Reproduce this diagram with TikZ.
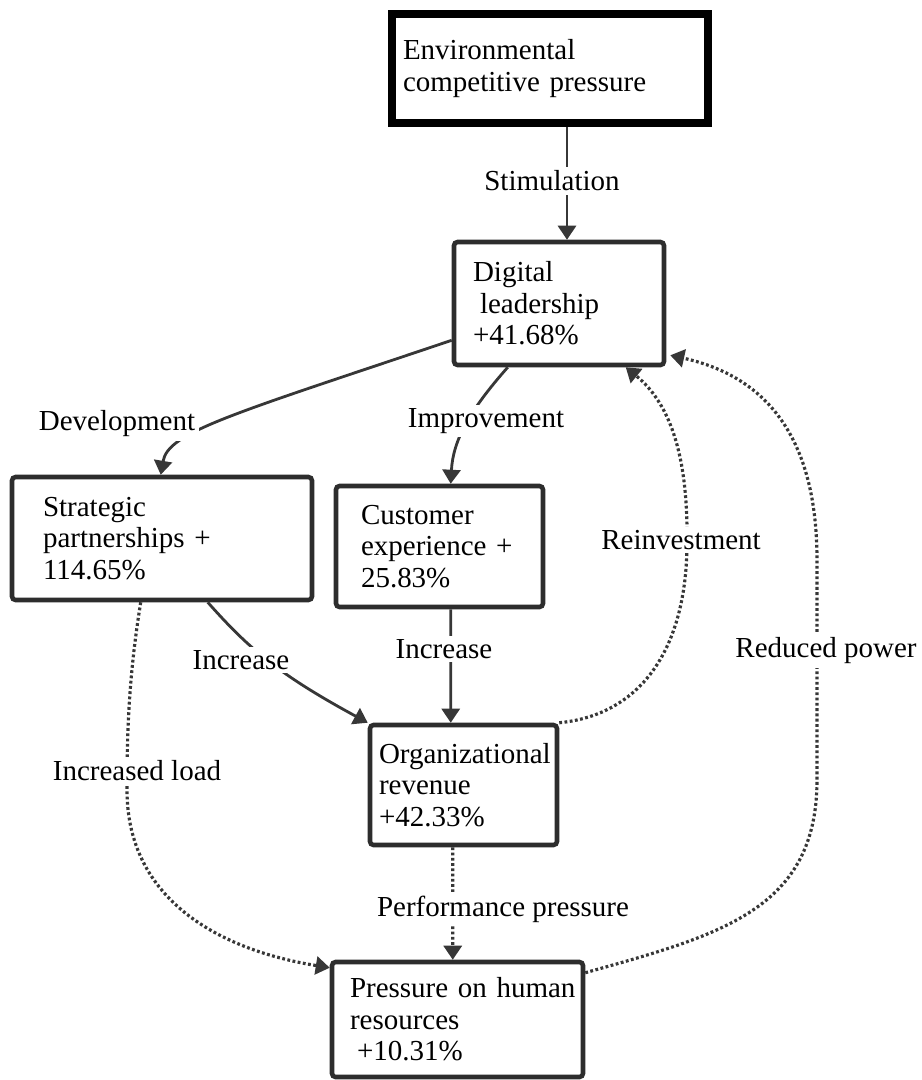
\documentclass[tikz,border=0pt]{standalone}
\usepackage{fontspec}
\setmainfont{Liberation Serif}
\usepackage{xcolor}
\definecolor{effgray}{RGB}{45,45,45}
\definecolor{effarrgray}{RGB}{55,55,55}
\usetikzlibrary{arrows.meta,positioning,calc}

\begin{document}
\begin{tikzpicture}[x=0.02cm,y=-0.02cm,
  effbox/.style={draw=effgray,line width=2.6pt,rounded corners=2pt,fill=white,
    align=left,font=\fontsize{16.5}{18}\selectfont},
  efflabel/.style={fill=white,inner sep=2pt,font=\fontsize{16.5}{18}\selectfont},
  effarr/.style={-{Triangle[width=0.36cm,length=0.28cm]},line width=1.6pt,effarrgray},
  effdot/.style={effarr,line width=1.8pt,dash pattern=on 1.6pt off 1.4pt}
]
  \useasboundingbox (0,0) rectangle (922,1080);
  % Boxes
  \node[effbox,draw=black,line width=4.5pt,rounded corners=0pt,minimum width=6.32cm,
    minimum height=2.18cm,text width=5.88cm,inner xsep=0.22cm] (env) at (550,68.5)
    {Environmental\\competitive pressure};
  \node[effbox,minimum width=4.2cm,minimum height=2.46cm,text width=3.44cm,
    inner xsep=0.38cm] (dig) at (559,303.5) {Digital\\\hspace*{4pt}leadership\\+41.68\%};
  \node[effbox,minimum width=6cm,minimum height=2.46cm,text width=4.76cm,
    inner xsep=0.62cm] (strat) at (162,538.5) {Strategic\\partnerships +\\114.65\%};
  \node[effbox,minimum width=4.14cm,minimum height=2.42cm,text width=3.14cm,
    inner xsep=0.5cm] (cust) at (439.5,546.5) {Customer\\experience +\\25.83\%};
  \node[effbox,minimum width=3.74cm,minimum height=2.4cm,text width=3.38cm,
    inner xsep=0.18cm] (org) at (463.5,785) {\mbox{Organizational}\\revenue\\+42.33\%};
  \node[effbox,minimum width=5.02cm,minimum height=2.3cm,text width=4.3cm,
    inner xsep=0.36cm] (hr) at (457.5,1019.5) {\mbox{Pressure on human}\\resources\\\hspace*{4pt}+10.31\%};
  % Solid links
  \draw[effarr] ($(env.south)+(17,0)$) -- ($(dig.north)+(8,0)$);
  \draw[effarr] ($(dig.south west)+(0,-27)$) .. controls (230,415) and (168,432)
    .. ($(strat.north west)+(151,0)$);
  \draw[effarr] ($(dig.south west)+(56,0)$) .. controls (470,410) and (453,440)
    .. ($(cust.north west)+(117,0)$);
  \draw[effarr] ($(strat.south west)+(198,0)$) .. controls (250,650) and (280,675)
    .. (org.north west);
  \draw[effarr] ($(cust.south west)+(117,0)$) -- ($(org.north west)+(83,0)$);
  % Dotted links
  \draw[effdot] (org.north east) .. controls (640,715) and (687,650) .. (687,542)
    .. controls (688,460) and (672,405) .. ($(dig.south west)+(174,0)$);
  \draw[effdot] ($(hr.north east)+(0,13)$) .. controls (720,935) and (817,910) .. (817,780)
    -- (817,560) .. controls (817,430) and (760,375) .. ($(dig.south east)+(4,-12)$);
  \draw[effdot] ($(strat.south west)+(131,0)$) .. controls (128,680) and (127,740) .. (127,790)
    .. controls (127,900) and (220,950) .. ($(hr.north west)+(0,8)$);
  \draw[effdot] ($(org.south west)+(85,0)$) -- ($(hr.north west)+(123,0)$);
  % Labels
  \node[efflabel] (stim) at (552,181) {Stimulation};
  \node[efflabel] (devl) at (117,424) {Development};
  \node[efflabel] (impr) at (486,421) {Improvement};
  \node[efflabel] (incl) at (241,660) {Increase};
  \node[efflabel] (incm) at (444,649) {Increase};
  \node[efflabel] (rein) at (681,540) {Reinvestment};
  \node[efflabel] (redp) at (826,651) {Reduced power};
  \node[efflabel] (incd) at (137,771) {Increased load};
  \node[efflabel] (perf) at (503,909) {Performance pressure};
\end{tikzpicture}
\end{document}
